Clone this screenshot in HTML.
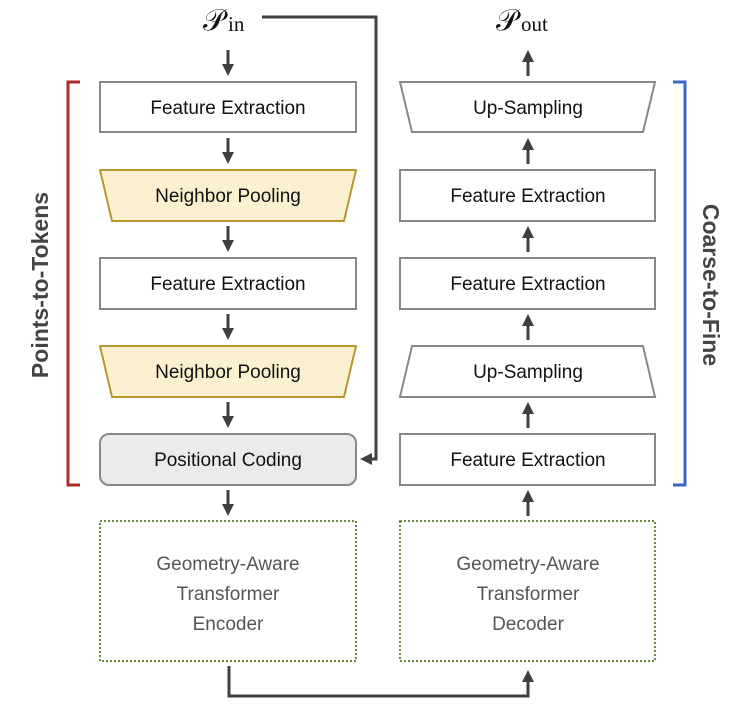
<!DOCTYPE html>
<html><head><style>body{margin:0;background:#fff}svg{display:block}</style></head><body>
<svg width="755" height="704" viewBox="0 0 755 704" xmlns="http://www.w3.org/2000/svg" font-family="Liberation Sans, sans-serif">
<defs><marker id="a" markerWidth="4" markerHeight="4" refX="2" refY="2" orient="auto" markerUnits="strokeWidth"><path d="M0,0 L4,2 L0,4 z" fill="#404040"/></marker></defs>
<g stroke="#404040" stroke-width="3" fill="none" marker-end="url(#a)">
<line x1="228" y1="50" x2="228" y2="70"/>
<line x1="228" y1="138" x2="228" y2="158"/>
<line x1="228" y1="226" x2="228" y2="246"/>
<line x1="228" y1="314" x2="228" y2="334"/>
<line x1="228" y1="402" x2="228" y2="422"/>
<line x1="228" y1="490" x2="228" y2="510"/>
<line x1="528" y1="516" x2="528" y2="496"/>
<line x1="528" y1="428" x2="528" y2="408"/>
<line x1="528" y1="340" x2="528" y2="320"/>
<line x1="528" y1="252" x2="528" y2="232"/>
<line x1="528" y1="164" x2="528" y2="144"/>
<line x1="528" y1="76" x2="528" y2="56"/>
<polyline points="262,17 376,17 376,459 366,459"/>
<polyline points="229,666 229,696 528,696 528,676"/>
</g>
<g fill="none" stroke-width="2">
<rect x="100" y="82" width="256" height="50" stroke="#888" fill="#fff"/>
<polygon points="100,170 356,170 344,221 112,221" stroke="#b8962e" fill="#fbf1d0"/>
<rect x="100" y="258" width="256" height="51" stroke="#888" fill="#fff"/>
<polygon points="100,346 356,346 344,397 112,397" stroke="#b8962e" fill="#fbf1d0"/>
<rect x="100" y="434" width="256" height="51" rx="9" stroke="#888" fill="#ebebeb"/>
<polygon points="400,82 655,82 643,132 412,132" stroke="#888" fill="#fff"/>
<rect x="400" y="170" width="255" height="51" stroke="#888" fill="#fff"/>
<rect x="400" y="258" width="255" height="51" stroke="#888" fill="#fff"/>
<polygon points="412,346 643,346 655,397 400,397" stroke="#888" fill="#fff"/>
<rect x="400" y="434" width="255" height="51" stroke="#888" fill="#fff"/>
<rect x="100" y="521" width="256" height="140" stroke="#6a8a3a" stroke-dasharray="2,2"/>
<rect x="400" y="521" width="255" height="140" stroke="#6a8a3a" stroke-dasharray="2,2"/>
<polyline points="80,82 68,82 68,485 80,485" stroke="#b02a2a" stroke-width="3"/>
<polyline points="673,82 685,82 685,485 673,485" stroke="#3a66c8" stroke-width="3"/>
</g>
<g font-size="19" fill="#111" text-anchor="middle">
<text x="228" y="114">Feature Extraction</text>
<text x="228" y="202">Neighbor Pooling</text>
<text x="228" y="290">Feature Extraction</text>
<text x="228" y="378">Neighbor Pooling</text>
<text x="228" y="466">Positional Coding</text>
<text x="528" y="114">Up-Sampling</text>
<text x="528" y="202">Feature Extraction</text>
<text x="528" y="290">Feature Extraction</text>
<text x="528" y="378">Up-Sampling</text>
<text x="528" y="466">Feature Extraction</text>
</g>
<g font-size="19" fill="#555" text-anchor="middle">
<text x="228" y="570">Geometry-Aware</text><text x="228" y="600">Transformer</text><text x="228" y="630">Encoder</text>
<text x="528" y="570">Geometry-Aware</text><text x="528" y="600">Transformer</text><text x="528" y="630">Decoder</text>
</g>
<g font-family="Liberation Serif, serif" fill="#111">
<text x="203" y="30" font-size="30">𝒫</text><text x="228" y="31" font-size="21">in</text>
<text x="496" y="30" font-size="30">𝒫</text><text x="521" y="31" font-size="21">out</text>
</g>
<text transform="translate(48,285) rotate(-90)" text-anchor="middle" font-size="23" font-weight="bold" fill="#444">Points-to-Tokens</text>
<text transform="translate(703,285) rotate(90)" text-anchor="middle" font-size="23" font-weight="bold" fill="#444">Coarse-to-Fine</text>
</svg>
</body></html>
